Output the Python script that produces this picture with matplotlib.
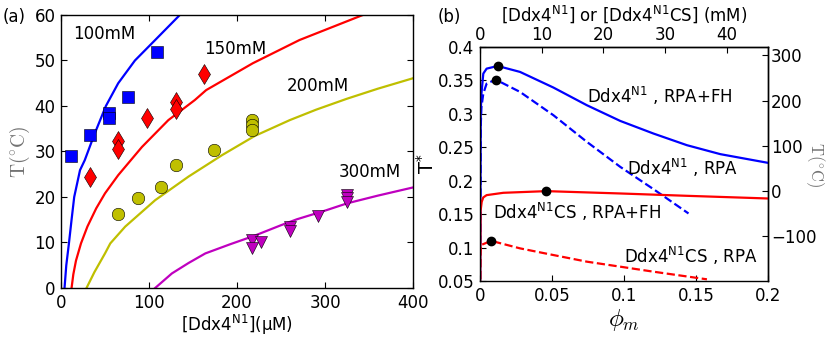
import numpy as np
import matplotlib
matplotlib.use("Agg")
import matplotlib.pyplot as plt
from matplotlib.ticker import FormatStrFormatter

# ---- panel (a): measured cloud points and theory curves ----
sq_x = [11.4, 32.9, 54.5, 54.5, 76.4, 108.6]
sq_y = [29.1, 33.6, 38.4, 37.3, 42.0, 51.9]
dia_x = [32.5, 65.1, 65.1, 97.6, 130.6, 130.6, 162.7]
dia_y = [24.4, 32.3, 30.5, 37.3, 40.8, 39.3, 47.0]
cir_x = [65.1, 87.0, 113.5, 130.6, 173.3, 217.6, 217.6, 217.6]
cir_y = [16.2, 19.8, 22.1, 27.1, 30.4, 36.9, 35.8, 34.7]
tri_x = [217.2, 217.2, 227.8, 260.0, 260.0, 292.0, 324.7, 324.7, 324.7]
tri_y = [10.6, 8.9, 10.2, 13.3, 12.5, 15.8, 20.5, 19.7, 18.9]

c100_x = [4, 6, 9, 12, 15, 21.6, 27, 38, 51, 65, 84, 107, 135]
c100_y = [0, 5, 9.8, 15, 20, 25.9, 28.1, 33.8, 40, 45, 50, 54.5, 60]
c150_x = [12, 14, 17, 22.7, 30, 40, 50, 65, 92, 122, 152, 165, 218, 271, 343]
c150_y = [0, 3, 6, 9.8, 13.5, 17.5, 20.8, 24.8, 31, 36.9, 41.3, 43.5, 49.4, 54.5, 60]
c200_x = [29, 38, 50, 56, 73, 107, 145, 183, 220, 260, 290, 325, 360, 400]
c200_y = [0, 3.5, 7.6, 9.8, 13.5, 19.3, 24.5, 29.2, 33.4, 36.9, 39.2, 41.6, 43.8, 46.1]
c300_x = [107, 126, 145, 164, 192, 220, 250, 268, 300, 325, 360, 400]
c300_y = [0, 3.2, 5.5, 7.6, 9.6, 11.5, 13.8, 15.1, 17, 18.6, 20.3, 22.1]

salt_labels = ["100mM", "150mM", "200mM", "300mM"]
salt_pos = [(13.6, 54.7), (162.5, 51.4), (256.8, 43.2), (316, 24.5)]

# ---- panel (b): critical temperature curves ----
fh_n1_phi = [0, 0.0005, 0.001, 0.0023, 0.0046, 0.0123, 0.0278, 0.051, 0.0742,
             0.0974, 0.1205, 0.1437, 0.1669, 0.2]
fh_n1_t = [0.0, 0.30, 0.33, 0.3602, 0.3676, 0.3716, 0.3627, 0.3393, 0.3129,
           0.2894, 0.2705, 0.2531, 0.2397, 0.2267]
rpa_n1_phi = [0, 0.0005, 0.001, 0.0023, 0.0046, 0.0109, 0.0278, 0.051, 0.0742,
              0.0974, 0.1205, 0.1448]
rpa_n1_t = [0.0, 0.28, 0.31, 0.3303, 0.3452, 0.3512, 0.3328, 0.2979, 0.2581,
            0.2207, 0.1873, 0.151]
fh_cs_phi = [0, 0.0004, 0.0012, 0.0023, 0.0046, 0.0162, 0.0461, 0.0974, 0.1437, 0.2]
fh_cs_t = [0.0, 0.155, 0.1684, 0.175, 0.1784, 0.1819, 0.1844, 0.1809, 0.1774, 0.1734]
rpa_cs_phi = [0, 0.0003, 0.0007, 0.0077, 0.0278, 0.051, 0.0742, 0.0974, 0.1205, 0.1576]
rpa_cs_t = [0.0, 0.09, 0.1037, 0.1101, 0.0988, 0.0888, 0.0789, 0.0714, 0.0639, 0.0525]

crit_phi = [0.0123, 0.0109, 0.0461, 0.0077]
crit_t = [0.3716, 0.3512, 0.1844, 0.1101]

curve_labels = [r"Ddx4$^{\mathrm{N1}}$ , RPA+FH", r"Ddx4$^{\mathrm{N1}}$ , RPA",
                r"Ddx4$^{\mathrm{N1}}$CS , RPA+FH", r"Ddx4$^{\mathrm{N1}}$CS , RPA"]
curve_pos = [(0.0741, 0.3158), (0.1021, 0.2086), (0.0088, 0.1423), (0.1, 0.0765)]

T_SCALE = 1479.0   # K per unit T*
MM_SCALE = 233.5   # mM per unit phi

plt.rcParams['font.family'] = ['DejaVu Sans']
plt.rcParams['font.size'] = 12
plt.rcParams['xtick.direction'] = 'in'
plt.rcParams['ytick.direction'] = 'in'
plt.rcParams['xtick.major.size'] = 4
plt.rcParams['ytick.major.size'] = 4
plt.rcParams['axes.linewidth'] = 1.0

fig = plt.figure(figsize=(8.3, 3.37), dpi=100)

# ---------- (a) ----------
ax = fig.add_axes([0.0735, 0.1454, 0.4241, 0.8101])
ax.plot(c100_x, c100_y, color='b', lw=1.6)
ax.plot(c150_x, c150_y, color='r', lw=1.6)
ax.plot(c200_x, c200_y, color=(0.75, 0.75, 0), lw=1.6)
ax.plot(c300_x, c300_y, color=(0.75, 0, 0.75), lw=1.6)
ax.plot(sq_x, sq_y, 's', color='b', ms=9, mec='k', mew=0.4)
ax.plot(dia_x, dia_y, 'd', color='r', ms=10, mec='k', mew=0.4)
ax.plot(cir_x, cir_y, 'o', color=(0.75, 0.75, 0), ms=9, mec='k', mew=0.4)
ax.plot(tri_x, tri_y, 'v', color=(0.75, 0, 0.75), ms=9, mec='k', mew=0.4)
for lab, (x, y) in zip(salt_labels, salt_pos):
    ax.text(x, y, lab, fontsize=12, va='baseline', ha='left')
ax.set_xlim(0, 400)
ax.set_ylim(0, 60)
ax.set_xticks([0, 100, 200, 300, 400])
ax.set_yticks(range(0, 61, 10))
ax.tick_params(top=True, right=True, labelsize=12, pad=4)
ax.set_xlabel(r"[Ddx4$^{\mathrm{N1}}$](µM)", fontsize=12, labelpad=1)
ax.set_ylabel(r"$\mathrm{T}(^{\circ}\mathrm{C})$", fontsize=14, color='0.45',
              math_fontfamily='cm', labelpad=2)

# ---------- (b) ----------
bx = fig.add_axes([0.5783, 0.1662, 0.3470, 0.6944])
bx.plot(fh_n1_phi, fh_n1_t, '-', color='b', lw=1.6)
bx.plot(rpa_n1_phi, rpa_n1_t, '--', color='b', lw=1.6)
bx.plot(fh_cs_phi, fh_cs_t, '-', color='r', lw=1.6)
bx.plot(rpa_cs_phi, rpa_cs_t, '--', color='r', lw=1.6)
bx.plot(crit_phi, crit_t, 'o', color='k', ms=6, zorder=5)
for lab, (x, y) in zip(curve_labels, curve_pos):
    bx.text(x, y, lab, fontsize=12, va='baseline', ha='left')
bx.set_xlim(0, 0.2)
bx.set_ylim(0.05, 0.4)
bx.set_xticks([0, 0.05, 0.1, 0.15, 0.2])
bx.set_yticks(np.arange(0.05, 0.41, 0.05))
bx.xaxis.set_major_formatter(FormatStrFormatter('%g'))
bx.yaxis.set_major_formatter(FormatStrFormatter('%g'))
bx.tick_params(labelsize=12, pad=4)
bx.set_xlabel(r"$\phi_m$", fontsize=18, math_fontfamily='cm', labelpad=2)
bx.set_ylabel(r"T$^{*}$", fontsize=14, labelpad=0)

top = bx.secondary_xaxis('top', functions=(lambda p: p * MM_SCALE,
                                           lambda c: c / MM_SCALE))
top.set_xticks([0, 10, 20, 30, 40])
top.tick_params(direction='in', labelsize=12, pad=2)
top.set_xlabel(r"[Ddx4$^{\mathrm{N1}}$] or [Ddx4$^{\mathrm{N1}}$CS] (mM)",
               fontsize=12, labelpad=4)

right = bx.secondary_yaxis('right', functions=(lambda t: t * T_SCALE - 273.15,
                                               lambda c: (c + 273.15) / T_SCALE))
right.set_yticks([-100, 0, 100, 200, 300])
right.tick_params(direction='in', labelsize=12, pad=2)
right.set_ylabel(r"$\mathrm{T}(^{\circ}\mathrm{C})$", fontsize=12, color='0.45',
                 math_fontfamily='cm', rotation=270, va='center', ha='center')
right.yaxis.set_label_coords(815 / 830, 1 - 165 / 337, transform=fig.transFigure)

fig.text(3 / 830, 1 - 17 / 337, "(a)", fontsize=12, va='center', ha='left')
fig.text(438 / 830, 1 - 17 / 337, "(b)", fontsize=12, va='center', ha='left')

fig.savefig("out.png", dpi=100)
